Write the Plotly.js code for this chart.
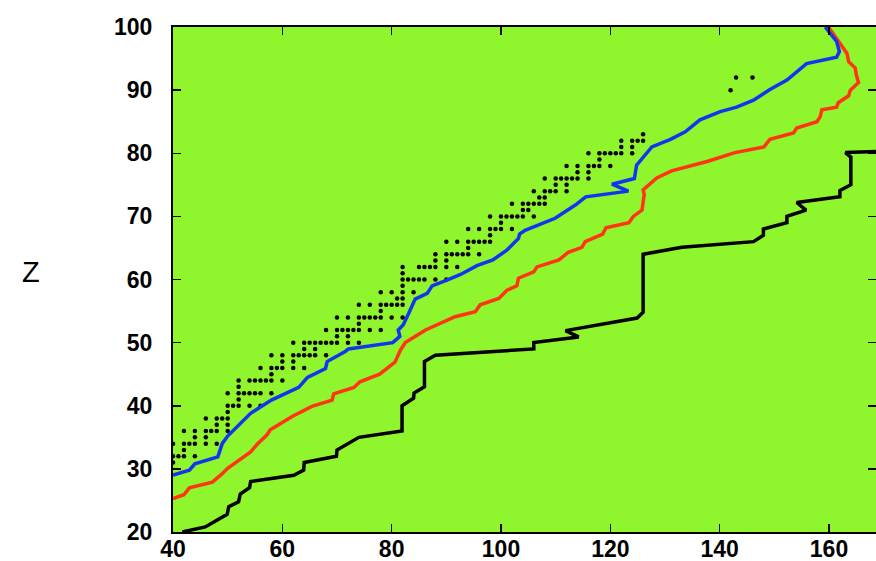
<!DOCTYPE html>
<html>
<head>
<meta charset="utf-8">
<script src="https://cdn.plot.ly/plotly-3.0.1.min.js"></script>
<style>
  html, body { margin: 0; padding: 0; background: #ffffff; }
  #chart { width: 876px; height: 561px; }
</style>
</head>
<body>
<div id="chart"></div>
<script>
// Known nuclei on the proton-rich side: one row per Z, listing the N values
const dotZ = [31, 32, 33, 34, 35, 36, 37, 38, 39, 40, 41, 42, 43, 44, 45, 46, 47, 48, 49, 50,
              51, 52, 53, 54, 55, 56, 57, 58, 59, 60, 61, 62, 63, 64, 65, 66, 67, 68, 69, 70,
              71, 72, 73, 74, 75, 76, 77, 78, 79, 80, 81, 82, 83, 90, 92];
const dotN = [
  [40], [40, 41, 42, 44], [42], [40, 42, 43, 44, 46, 48], [44, 46],
  [42, 44, 46, 47, 48, 50], [48, 50], [46, 48, 49, 50], [50], [50, 51, 52, 54, 56],
  [52], [50, 52, 53, 54, 55, 56, 58], [52], [52, 54, 55, 56, 57, 58, 60], [58],
  [56, 58, 59, 60, 62, 64], [60, 62], [58, 60, 62, 63, 64, 65, 66, 68], [64, 66],
  [62, 64, 65, 66, 67, 68, 69, 70, 72, 74],
  [70, 72], [68, 70, 71, 72, 73, 74, 76, 78], [74], [70, 72, 74, 75, 76, 77, 78, 80, 82], [78],
  [74, 76, 78, 79, 80, 81, 82], [81, 82], [78, 80, 82, 84], [82], [82, 83, 84, 85, 86, 88, 90],
  [82], [82, 85, 86, 87, 88, 90, 92], [88, 90], [88, 90, 91, 92, 93, 94, 96], [94],
  [90, 92, 94, 95, 96, 97, 98], [98], [94, 96, 98, 99, 100, 102], [100],
  [98, 100, 101, 102, 103, 104, 106],
  [104, 105], [102, 104, 105, 106, 107, 108], [107, 108], [106, 108, 109, 110, 112], [110, 112],
  [108, 110, 111, 112, 113, 114, 116], [114, 116], [112, 114, 116, 117, 118, 120], [118],
  [116, 118, 119, 120, 121, 122, 124],
  [122, 124], [122, 124, 125, 126], [126], [142], [143, 146]
];

// Neutron-rich boundary (black)
const blackN = [41.7, 45.9, 49.9, 50.2, 52, 52.3, 54, 54.2, 62.1, 63.9, 64, 69.9, 70, 74, 81.9,
                81.9, 84, 84.1, 86, 86, 88, 106, 106, 114.2, 111.8, 124.9, 126, 126, 133.1, 146.2,
                148, 148, 152.3, 152.3, 155.8, 154.1, 162, 162, 164, 164, 163, 170];
const blackZ = [20, 20.8, 22.8, 24, 24.8, 26, 27, 28, 29, 29.8, 31, 32, 33, 35, 36,
                40, 41.2, 42, 43, 47, 48, 49, 50, 50.9, 51.9, 53.9, 54.8, 64, 65.1, 66,
                67, 68, 69, 70, 71, 72.2, 73.1, 74.1, 75, 79.4, 80.1, 80.3];

// Red boundary
const redN = [40, 42, 43, 47.2, 48.7, 50, 54.2, 55.4, 57.2, 57.8, 61.8, 65.4, 69.1, 69.4, 73.1,
              74.2, 77.8, 80.6, 81.6, 82.5, 86.2, 91.6, 95.3, 96.2, 99.6, 101.1, 102.9, 103.2, 106, 106.6,
              110.6, 112.3, 114.8, 115.4, 118.6, 119.2, 123.4, 124.2, 125.8, 126.2, 126, 128.5, 131.2, 137.7, 142.8,
              148.1, 149.2, 153.5, 154.1, 157.8, 158.4, 158.7, 161.4, 161.7, 163.6, 163.9, 165.4, 165, 164.8, 163.6,
              163.3, 161.7, 159.9];
const redZ = [25.3, 25.9, 27, 27.9, 29, 30.1, 32.7, 33.9, 35.4, 36.2, 38.3, 39.9, 40.9, 41.9, 42.9,
              43.8, 45, 46.9, 48.8, 50, 52, 54.1, 54.9, 56, 57, 58.3, 59, 60.2, 61.2, 62,
              63.1, 64.3, 65.1, 66, 67.2, 68.2, 69, 70, 71, 73.5, 74.2, 76.1, 77.2, 78.7, 80.1,
              81, 82.2, 83.2, 84, 85, 85.8, 86.9, 87.3, 88, 89.1, 90, 91.2, 92.4, 93.5, 94.5,
              95.8, 97.7, 100];

// Blue boundary
const blueN = [40, 43, 44, 48.2, 49, 50, 54.2, 56.3, 58, 63, 64.6, 67.9, 68.2, 71.5, 72.1, 80.2,
               81.5, 81.2, 82.1, 83.1, 84.3, 86.5, 87.4, 90.1, 92.6, 95.6, 98.5, 101, 103.2, 103.4, 104.4,
               109.9, 112.1, 113.6, 115.5, 123.3, 120.3, 124.4, 124.8, 127.6, 131, 133.7, 136.4, 140.1, 143.1,
               146.2, 149.2, 152.3, 155.9, 161.4, 161.9, 161.4, 159.3];
const blueZ = [29, 29.8, 30.8, 31.9, 34, 35.2, 38.8, 40, 40.9, 42.9, 44.5, 45.9, 47, 48.6, 49, 50,
               51, 52, 52.8, 54.6, 56.9, 57.8, 59, 59.9, 60.8, 62.2, 63.1, 64.6, 66.5, 67.2, 67.8,
               69.7, 71, 71.8, 73.1, 74, 75.1, 76, 78.1, 81, 82.2, 83.4, 85.3, 86.6, 87.3,
               88.4, 90.1, 91.6, 94.2, 95.2, 96.1, 97.7, 100];

const xTicks = [40, 60, 80, 100, 120, 140, 160];
const yTicks = [20, 30, 40, 50, 60, 70, 80, 90, 100];

// Flatten the dot rows into x/y lists
const dotX = [], dotY = [];
dotZ.forEach((z, i) => dotN[i].forEach(n => { dotX.push(n); dotY.push(z); }));

const traces = [
  { x: dotX, y: dotY, type: 'scatter', mode: 'markers',
    marker: { color: '#000000', size: 4.5 }, hoverinfo: 'x+y' },
  { x: blackN, y: blackZ, type: 'scatter', mode: 'lines',
    line: { color: '#000000', width: 3.5 } },
  { x: redN, y: redZ, type: 'scatter', mode: 'lines',
    line: { color: '#ff3512', width: 3.5 } },
  { x: blueN, y: blueZ, type: 'scatter', mode: 'lines',
    line: { color: '#1236f0', width: 3.5 } }
];

const tickFont = { family: 'Liberation Sans, Arial, sans-serif', size: 23, color: '#000000', weight: 'bold' };

const axisBase = {
  showgrid: false, zeroline: false,
  showline: true, linecolor: '#000000', linewidth: 2,
  ticks: 'inside', ticklen: 8, tickwidth: 1.5, tickcolor: '#000000',
  mirror: 'ticks',
  tickfont: tickFont
};

const layout = {
  width: 876, height: 561,
  margin: { l: 173, r: 0, t: 27, b: 29, pad: 0 },
  paper_bgcolor: '#ffffff',
  plot_bgcolor: '#8ff52d',
  showlegend: false,
  xaxis: Object.assign({}, axisBase, {
    range: [40, 168.6], tickmode: 'array', tickvals: xTicks,
    ticktext: xTicks.map(String), ticklabelstandoff: -5
  }),
  yaxis: Object.assign({}, axisBase, {
    range: [20, 100], tickmode: 'array', tickvals: yTicks,
    ticktext: yTicks.map(String), ticklabelstandoff: 14
  }),
  annotations: [{
    text: 'Z', xref: 'paper', yref: 'paper', x: -0.2027, y: 0.515,
    xanchor: 'center', yanchor: 'middle', showarrow: false,
    font: { family: 'Liberation Sans, Arial, sans-serif', size: 29, color: '#000000' }
  }]
};

Plotly.newPlot('chart', traces, layout, { displayModeBar: false, staticPlot: true });
</script>
</body>
</html>
